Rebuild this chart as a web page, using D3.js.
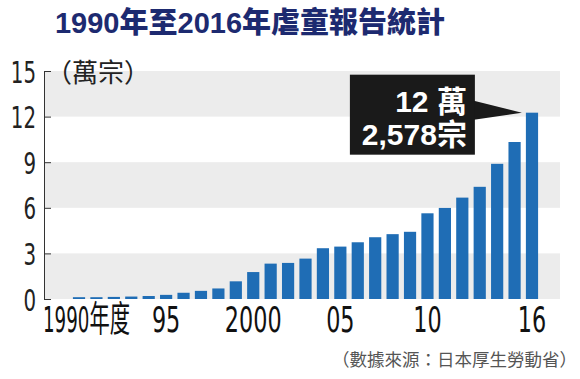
<!DOCTYPE html>
<html><head><meta charset="utf-8">
<script src="https://cdn.jsdelivr.net/npm/d3@7"></script>
<style>
html,body{margin:0;padding:0;background:#fff;}
svg{display:block;}
</style></head>
<body>
<svg id="chart" width="580" height="379"></svg>
<script>
// ---- data (萬宗 = 10,000 cases) ----
const years = [1990,1991,1992,1993,1994,1995,1996,1997,1998,1999,2000,2001,2002,2003,2004,2005,2006,2007,2008,2009,2010,2011,2012,2013,2014,2015,2016];
const cases = [0.1101,0.1171,0.1372,0.1611,0.1961,0.2722,0.4102,0.5352,0.6932,1.1631,1.7725,2.3274,2.3738,2.6569,3.3408,3.4472,3.7323,4.0639,4.2664,4.4211,5.6384,5.9919,6.6701,7.3802,8.8931,10.3286,12.2578];
const yTicks = [0,3,6,9,12,15];
const xTickYears = [1990,1995,2000,2005,2010,2016];
const xTickLabels = ["1990年度","95","2000","05","10","16"];
const bandRanges = [[0,3],[6,9],[12,15]];
const titleText = "1990年至2016年虐童報告統計";
const unitText = "（萬宗）";
const calloutLines = ["12 萬","2,578宗"];
const sourceText = "（數據來源：日本厚生勞動省）";

const svg = d3.select("#chart");
const NUM = "'Liberation Sans Narrow','DejaVu Sans Condensed','Liberation Sans',sans-serif";
const CJK = "'Noto Sans CJK TC','Noto Sans CJK SC',sans-serif";

const y = d3.scaleLinear().domain([0,15]).range([299,71]);
const x = d3.scaleBand().domain(years).range([70.3,540.7]).paddingInner(0.3).paddingOuter(0.15);

// title
svg.append("text").attr("x",250).attr("y",33).attr("text-anchor","middle")
  .attr("font-family","'Liberation Sans','Noto Sans CJK TC',sans-serif").attr("font-weight","900")
  .attr("font-size",29).attr("fill","#1d2a70").text(titleText);

// gray bands
svg.append("g").selectAll("rect").data(bandRanges).join("rect")
  .attr("x",45).attr("width",515)
  .attr("y",d=>y(d[1])).attr("height",d=>y(d[0])-y(d[1]))
  .attr("fill","#ececec");

// bars
svg.append("g").selectAll("rect").data(years).join("rect")
  .attr("x",d=>x(d)).attr("width",x.bandwidth())
  .attr("y",(d,i)=>Math.min(y(cases[i]),y(0)-1.8))
  .attr("height",(d,i)=>y(0)-Math.min(y(cases[i]),y(0)-1.8))
  .attr("fill","#1f6db5");

// y axis
const yAxis = svg.append("g").attr("transform","translate(44,0)")
  .call(d3.axisLeft(y).tickValues(yTicks).tickSize(-7).tickPadding(5));
yAxis.select(".domain").attr("stroke","#333").attr("stroke-width",1);
yAxis.selectAll(".tick line").attr("stroke","#333");
yAxis.selectAll(".tick text").attr("font-family",NUM).attr("font-size",31)
  .attr("fill","#222").attr("dy","0.36em")
  .each(function(){
    const w = this.getComputedTextLength();
    const s = (this.textContent.length*12.6)/w;
    d3.select(this).attr("transform",`scale(${s},1)`).attr("x",-8/s);
  });

// x axis
const xAxis = svg.append("g").attr("transform","translate(0,299)")
  .call(d3.axisBottom(x).tickValues(xTickYears).tickSize(0).tickPadding(7)
    .tickFormat(d=>xTickLabels[xTickYears.indexOf(d)]));
xAxis.select(".domain").remove();
xAxis.selectAll(".tick text").attr("font-family",NUM+","+CJK).attr("font-size",36)
  .attr("fill","#111")
  .each(function(d){
    const w = this.getComputedTextLength();
    if (d===1990) {
      const s = 87/w;
      const off = 43 - (x(d)+x.bandwidth()/2);
      d3.select(this).attr("text-anchor","start").attr("transform",`scale(${s},1)`).attr("x",off/s);
    } else {
      const s = (this.textContent.length*14.2)/w;
      d3.select(this).attr("transform",`scale(${s},1)`);
    }
  });

// unit label
svg.append("text").attr("x",46).attr("y",82).attr("font-family",CJK)
  .attr("font-size",26).attr("fill","#222").text(unitText);

// callout
const last = cases.length-1;
const tipX = x(years[last]) - 4, tipY = y(cases[last]);
const boxR = tipX - 47, boxL = boxR - 125, boxT = tipY - 38, boxB = tipY + 42;
svg.append("path")
  .attr("d",`M${boxR-1},${tipY-12}L${tipX},${tipY}L${boxR-1},${tipY+7}Z`)
  .attr("fill","#1a1a1a");
svg.append("rect").attr("x",boxL).attr("y",boxT).attr("width",boxR-boxL).attr("height",boxB-boxT)
  .attr("fill","#1a1a1a");
svg.append("g").selectAll("text").data(calloutLines).join("text")
  .attr("x",boxR-8).attr("y",(d,i)=>tipY-1+i*33)
  .attr("text-anchor","end").attr("font-family","'Liberation Sans','Noto Sans CJK TC',sans-serif")
  .attr("font-weight","bold").attr("font-size",30).attr("fill","#fff").text(d=>d);

// source
svg.append("text").attr("x",577).attr("y",366).attr("text-anchor","end")
  .attr("font-family",CJK).attr("font-size",17.5).attr("fill","#555").text(sourceText);
</script>
</body></html>
